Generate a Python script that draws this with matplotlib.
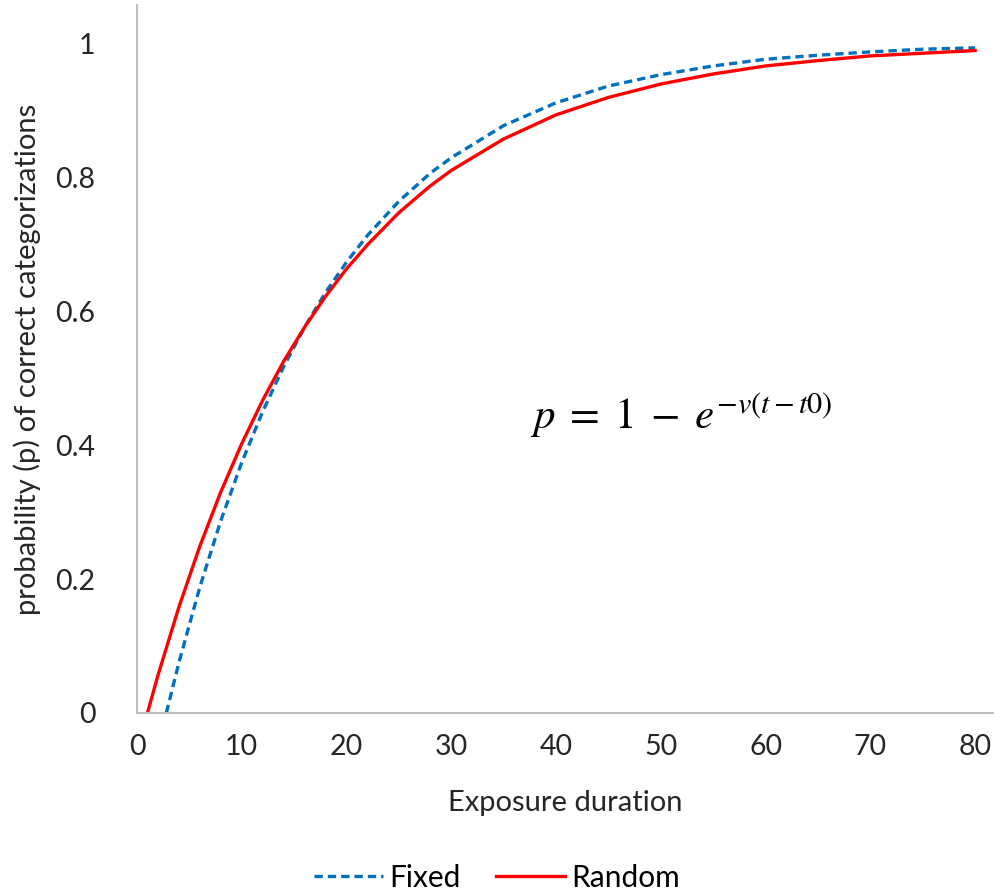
import matplotlib.pyplot as plt

# valores
t_fixed = [2.8, 4, 6, 8, 10, 12, 14, 16, 18, 20, 22, 25, 28, 30, 35, 40, 45, 50, 55, 60, 65, 70, 75, 80]
p_fixed = [0.0, 0.075, 0.188, 0.287, 0.374, 0.450, 0.517, 0.576, 0.628, 0.673, 0.713, 0.764, 0.806,
           0.829, 0.877, 0.911, 0.936, 0.953, 0.966, 0.976, 0.982, 0.987, 0.991, 0.993]

t_random = [1, 2, 4, 6, 8, 10, 12, 14, 16, 18, 20, 22, 25, 28, 30, 35, 40, 45, 50, 55, 60, 65, 70, 75, 80]
p_random = [0.0, 0.056, 0.158, 0.249, 0.330, 0.402, 0.467, 0.525, 0.576, 0.622, 0.663, 0.699, 0.747,
            0.787, 0.810, 0.857, 0.893, 0.919, 0.939, 0.954, 0.966, 0.974, 0.981, 0.985, 0.989]

x_ticks = [0, 10, 20, 30, 40, 50, 60, 70, 80]
y_ticks = [0, 0.2, 0.4, 0.6, 0.8, 1]
y_tick_labels = ['0', '0.2', '0.4', '0.6', '0.8', '1']

plt.rcParams['font.family'] = ['Lato', 'DejaVu Sans']
plt.rcParams['mathtext.fontset'] = 'stix'

fig = plt.figure(figsize=(9.94, 8.92), dpi=100)
ax = fig.add_axes([0.1378, 0.2007, 0.8622, 0.7937])

ax.plot(t_fixed, p_fixed, color='#0070C0', linewidth=2.4, linestyle=(0, (2.5, 1.5)), label='Fixed')
ax.plot(t_random, p_random, color='#FF0000', linewidth=2.4, label='Random')

ax.set_xlim(0, 81.8)
ax.set_ylim(0, 1.057)
ax.set_xticks(x_ticks)
ax.set_yticks(y_ticks)
ax.set_yticklabels(y_tick_labels)
ax.tick_params(length=0, labelsize=20.5, colors='#262626')
ax.tick_params(axis='x', pad=15)
ax.tick_params(axis='y', pad=30)

for lado in ['top', 'right']:
    ax.spines[lado].set_visible(False)
for lado in ['left', 'bottom']:
    ax.spines[lado].set_color('#BFBFBF')
    ax.spines[lado].set_linewidth(1.5)

ax.set_xlabel('Exposure duration', fontsize=21, color='#262626', labelpad=22)
ax.set_ylabel('probability (p) of correct categorizations', fontsize=21, color='#262626', labelpad=10)

ax.text(37.5, 0.445, r'$p \;=\; 1 \;-\; e^{-v(t-t0)}$', fontsize=31, va='center', ha='left')

fig.legend(loc='center', bbox_to_anchor=(0.5, 0.016), ncol=2, frameon=False, fontsize=21.5,
           handlelength=2.3, handletextpad=0.2, columnspacing=1.2)

fig.savefig('out.png', dpi=100)
